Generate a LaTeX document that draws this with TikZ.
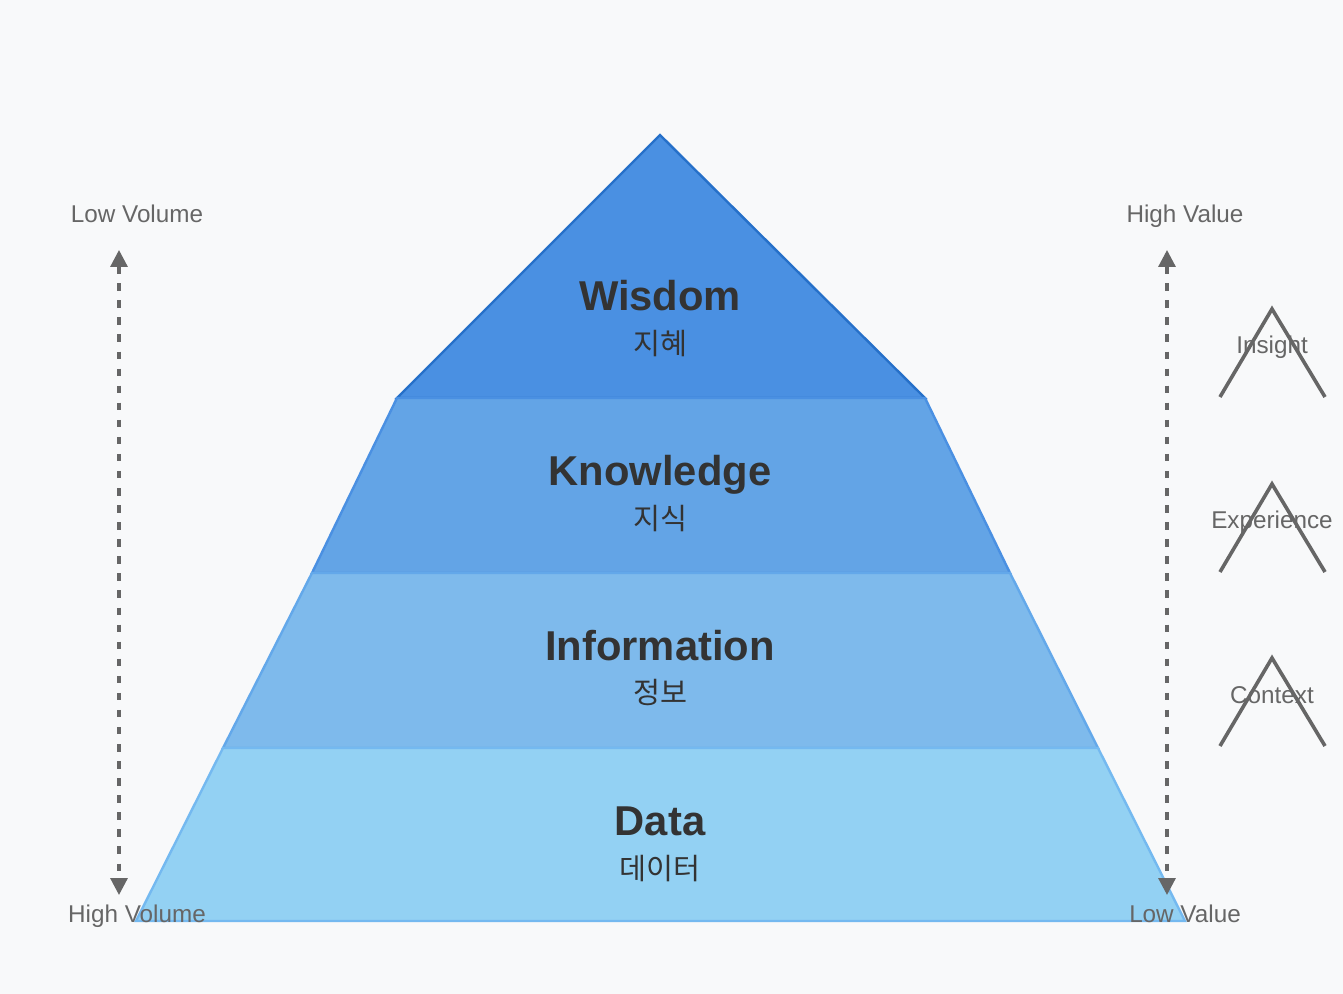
\documentclass[tikz,border=0pt]{standalone}
\usepackage{fontspec}
\setmainfont{Liberation Sans}
\newfontfamily\krfont{Noto Sans CJK KR}
\usetikzlibrary{arrows.meta}

\definecolor{bgcol}{HTML}{F8F9FA}
\definecolor{titlecol}{HTML}{333333}
\definecolor{sidecol}{HTML}{666666}
\definecolor{wisfill}{HTML}{4A90E2}
\definecolor{wisline}{HTML}{2670C9}
\definecolor{knowfill}{HTML}{63A4E6}
\definecolor{knowline}{HTML}{4A90E2}
\definecolor{infofill}{HTML}{7EBAEC}
\definecolor{infoline}{HTML}{63A8EA}
\definecolor{datafill}{HTML}{93D1F3}
\definecolor{dataline}{HTML}{74B9F0}

\begin{document}
\begin{tikzpicture}[x=0.75pt, y=-0.75pt,
    title/.style={anchor=base, text=titlecol, font=\bfseries\fontsize{31.3}{37}\selectfont},
    sub/.style={anchor=base, text=titlecol, font=\krfont\fontsize{22}{26}\selectfont},
    side/.style={anchor=base, text=sidecol, font=\fontsize{18.2}{22}\selectfont},
    layer/.style={line width=1.8pt, line join=miter},
    vol/.style={draw=sidecol, line width=2.4pt, dash pattern=on 5.6pt off 7.2pt,
        {Triangle[length=12.75pt, width=12.75pt]}-{Triangle[length=12.75pt, width=12.75pt]}},
    chev/.style={draw=sidecol, line width=2.7pt}
]
    \fill[bgcol] (0,0) rectangle (1343,994);
    \useasboundingbox (0,0) rectangle (1343,994);

    \draw[layer, fill=wisfill, draw=wisline] (660,135) -- (925,398) -- (397,398) -- cycle;
    \draw[layer, fill=knowfill, draw=knowline] (397,398) -- (925,398) -- (1010,573) -- (312,573) -- cycle;
    \draw[layer, fill=infofill, draw=infoline] (312,573) -- (1010,573) -- (1098,748) -- (223,748) -- cycle;
    \draw[layer, fill=datafill, draw=dataline] (223,748) -- (1098,748) -- (1185,921) -- (136,921) -- cycle;

    \node[title] (wisdom) at (660,311) {Wisdom};
    \node[sub] (wisdomkr) at (660,355) {지혜};
    \node[title] (knowledge) at (660,486) {Knowledge};
    \node[sub] (knowledgekr) at (660,530) {지식};
    \node[title] (information) at (660,661) {Information};
    \node[sub] (informationkr) at (660,704) {정보};
    \node[title] (data) at (660,835) {Data};
    \node[sub] (datakr) at (660,879) {데이터};

    \coordinate (voltop) at (119,250);
    \coordinate (volbot) at (119,895);
    \coordinate (valtop) at (1167,250);
    \coordinate (valbot) at (1167,895);
    \draw[vol] (voltop) -- (volbot);
    \draw[vol] (valtop) -- (valbot);

    \node[side] (lowvol) at (137,223) {Low Volume};
    \node[side] (highvol) at (137,922) {High Volume};
    \node[side] (highval) at (1185,223) {High Value};
    \node[side] (lowval) at (1185,922) {Low Value};

    \draw[chev] (1220,397) -- (1272,309) -- (1325,397);
    \draw[chev] (1220,572) -- (1272,484) -- (1325,572);
    \draw[chev] (1220,746) -- (1272,658) -- (1325,746);
    \node[side] (insight) at (1272,354) {Insight};
    \node[side] (experience) at (1272,529) {Experience};
    \node[side] (context) at (1272,703) {Context};
\end{tikzpicture}
\end{document}
